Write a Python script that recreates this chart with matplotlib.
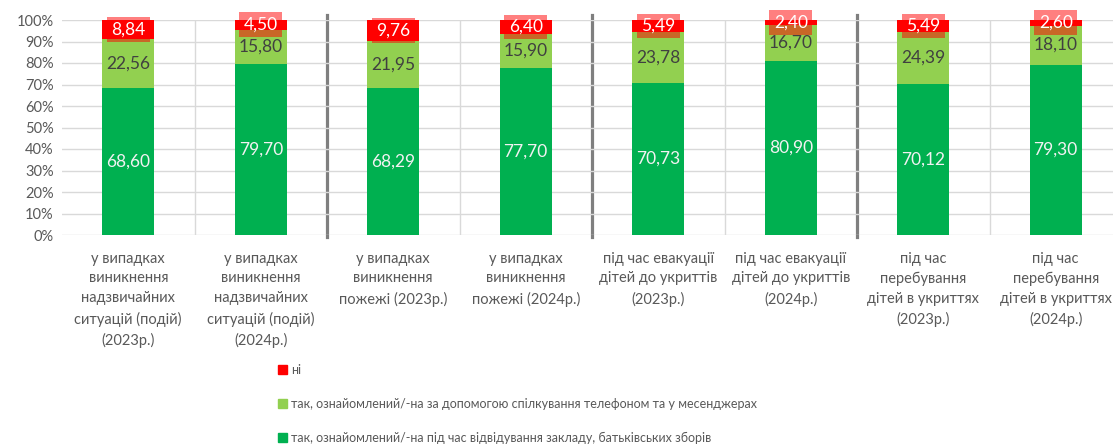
import numpy as np
import matplotlib
matplotlib.use("Agg")
import matplotlib.pyplot as plt
from matplotlib.patches import Patch

plt.rcParams['font.family'] = ['Lato', 'DejaVu Sans']

# data
categories = ["у випадках\nвиникнення\nнадзвичайних\nситуацій (подій)\n(2023р.)",
              "у випадках\nвиникнення\nнадзвичайних\nситуацій (подій)\n(2024р.)",
              "у випадках\nвиникнення\nпожежі (2023р.)",
              "у випадках\nвиникнення\nпожежі (2024р.)",
              "під час евакуації\nдітей до укриттів\n(2023р.)",
              "під час евакуації\nдітей до укриттів\n(2024р.)",
              "під час\nперебування\nдітей в укриттях\n(2023р.)",
              "під час\nперебування\nдітей в укриттях\n(2024р.)"]
tak_zaklad = [68.60, 79.70, 68.29, 77.70, 70.73, 80.90, 70.12, 79.30]
tak_telefon = [22.56, 15.80, 21.95, 15.90, 23.78, 16.70, 24.39, 18.10]
ni = [8.84, 4.50, 9.76, 6.40, 5.49, 2.40, 5.49, 2.60]
names = ["так, ознайомлений/-на під час відвідування закладу, батьківських зборів",
         "так, ознайомлений/-на за допомогою спілкування телефоном та у месенджерах",
         "ні"]
colors = ["#00B050", "#92D050", "#FF0000"]
yticks = np.arange(0, 101, 10)

def fmt(v):
    return f"{v:.2f}".replace(".", ",")

fig = plt.figure(figsize=(11.13, 4.47), dpi=100)
ax = fig.add_axes([62/1113, 1-235/447, (1122-62)/1113, 215/447])

x = np.arange(len(categories))
w = 0.39
b1 = np.array(tak_zaklad)
b2 = b1 + np.array(tak_telefon)

ax.bar(x, tak_zaklad, w, color=colors[0], zorder=2)
ax.bar(x, tak_telefon, w, bottom=b1, color=colors[1], zorder=2)
ax.bar(x, ni, w, bottom=b2, color=colors[2], zorder=2)

for i in range(len(x)):
    ax.text(x[i], tak_zaklad[i]/2, fmt(tak_zaklad[i]), ha="center", va="center",
            fontsize=12.5, color="#F2F2F2", zorder=4)
    ax.text(x[i], b1[i] + tak_telefon[i]/2, fmt(tak_telefon[i]), ha="center", va="center",
            fontsize=12.5, color="#404040", zorder=4)
    ax.text(x[i], b2[i] + ni[i]/2, fmt(ni[i]), ha="center", va="center",
            fontsize=12.5, color="white", zorder=4,
            bbox=dict(boxstyle="square,pad=0.25", fc=(1, 0, 0, 0.5), ec="none"))

ax.set_ylim(0, 100)
ax.set_xlim(-0.5, len(x) - 0.5)
ax.set_yticks(yticks)
ax.set_yticklabels([f"{t}%" for t in yticks])
ax.set_xticks(x)
ax.set_xticklabels(categories, fontsize=10.5, color="#595959", va="top", linespacing=1.53)
ax.tick_params(axis="y", labelsize=10.5, labelcolor="#595959", length=0, pad=6)
ax.tick_params(axis="x", length=0, pad=12)
ax.yaxis.grid(True, color="#D9D9D9", lw=1, zorder=0)
for s in ax.spines.values():
    s.set_visible(False)

# vertical separators
for k in range(len(x) - 1):
    if k % 2 == 0:
        ax.axvline(k + 0.5, color="#D9D9D9", lw=1, zorder=0)
    else:
        ax.axvline(k + 0.5, ymin=-0.01, ymax=1.023, color="#7F7F7F", lw=2.3,
                   zorder=1, clip_on=False)

handles = [Patch(color=colors[2]), Patch(color=colors[1]), Patch(color=colors[0])]
fig.legend(handles, [names[2], names[1], names[0]], loc="center left",
           bbox_to_anchor=(272/1113, 1-404/447), frameon=False, fontsize=9,
           labelcolor="#595959", handlelength=0.7, handleheight=0.7,
           handletextpad=0.3, labelspacing=1.75, borderpad=0)

fig.savefig("out.png", dpi=100)
